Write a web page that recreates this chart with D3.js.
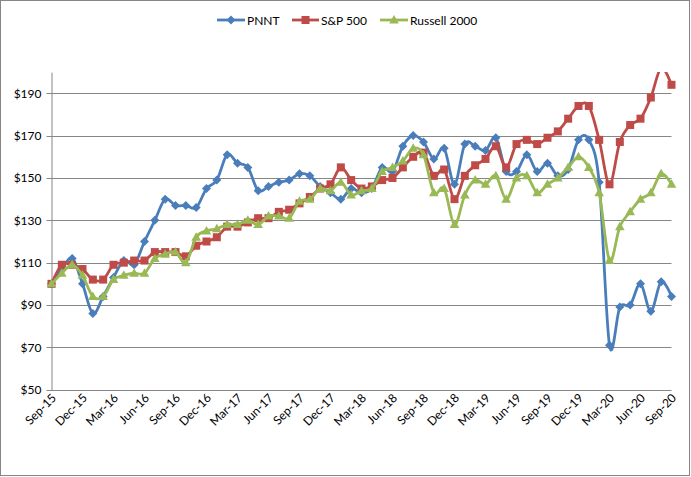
<!DOCTYPE html>
<html><head><meta charset="utf-8">
<script src="https://cdn.jsdelivr.net/npm/d3@7"></script>
<style>body{margin:0;background:#fff}text{font-family:Lato,"Open Sans",sans-serif}</style>
</head><body>
<svg id="c" width="691" height="477"></svg>
<script>
const months = ["Sep-15","Oct-15","Nov-15","Dec-15","Jan-16","Feb-16","Mar-16","Apr-16","May-16","Jun-16","Jul-16","Aug-16","Sep-16","Oct-16","Nov-16","Dec-16","Jan-17","Feb-17","Mar-17","Apr-17","May-17","Jun-17","Jul-17","Aug-17","Sep-17","Oct-17","Nov-17","Dec-17","Jan-18","Feb-18","Mar-18","Apr-18","May-18","Jun-18","Jul-18","Aug-18","Sep-18","Oct-18","Nov-18","Dec-18","Jan-19","Feb-19","Mar-19","Apr-19","May-19","Jun-19","Jul-19","Aug-19","Sep-19","Oct-19","Nov-19","Dec-19","Jan-20","Feb-20","Mar-20","Apr-20","May-20","Jun-20","Jul-20","Aug-20","Sep-20"];
const pnnt = [100,107,112,100,86,94,103,111,109,120,130,140,137,137,136,145,149,161,157,155,144,146,148,149,152,151,146,143,140,145,143,145,155,153,165,170,167,159,164,147,166,165,163,169,153,153,161,153,157,151,154,168,168,148,71,89,90,100,87,101,94];
const sp500 = [100,109,109,107,102,102,109,110,111,111,115,115,115,113,118,120,122,127,127,129,131,131,134,135,138,141,145,147,155,149,145,146,149,150,155,160,162,151,154,140,151,156,159,165,155,166,168,166,169,172,178,184,184,168,147,167,175,178,188,202,194];
const russell = [100,105,109,104,94,94,102,104,105,105,112,114,115,110,122,125,126,128,128,130,128,132,132,131,139,140,145,144,148,142,144,145,153,155,158,164,161,143,145,128,142,149,147,151,140,150,151,143,147,150,155,160,155,143,111,127,134,140,143,152,147];
const yTicks = [50,70,90,110,130,150,170,190];
const xTickLabels = months.filter((m,i)=>i%3===0);
const seriesNames = ["PNNT","S&P 500","Russell 2000"];

const svg = d3.select("#c");
const W=691,H=477;
svg.append("rect").attr("x",0.5).attr("y",0.5).attr("width",W-2).attr("height",H-2)
  .attr("fill","#fff").attr("stroke","#868686");

const x = d3.scaleLinear().domain([0,months.length-1]).range([51.5,671.5]);
const y = d3.scaleLinear().domain([50,200]).range([389.7,72.1]);

// gridlines
svg.append("g").selectAll("line").data(yTicks).join("line")
  .attr("x1",46.5).attr("x2",671.5)
  .attr("y1",d=>Math.round(y(d))+0.5).attr("y2",d=>Math.round(y(d))+0.5)
  .attr("stroke","#868686").attr("stroke-width",1);
// y axis
const yAxis = d3.axisLeft(y).tickValues(yTicks).tickSize(0).tickPadding(10).tickFormat(d=>"$"+d);
const gy = svg.append("g").attr("transform","translate(51.5,0)").call(yAxis);
gy.select(".domain").attr("stroke","#868686");
gy.selectAll("text").attr("font-size",12).attr("fill","#000");

// x axis labels
const xAxis = d3.axisBottom(x).tickValues(d3.range(0,months.length,3)).tickSize(0).tickFormat(i=>months[i]);
const gx = svg.append("g").attr("transform","translate(0,"+y(50)+")").call(xAxis);
gx.select(".domain").remove();
gx.selectAll("text").attr("font-size",12).attr("fill","#000")
  .attr("text-anchor","end").attr("dy",0).attr("y",0)
  .attr("transform","translate(5,9) rotate(-45)");

svg.append("clipPath").attr("id","clip").append("rect")
  .attr("x",40).attr("y",y(200)).attr("width",640).attr("height",y(50)-y(200)+10);

const colors = ["#4A7EBB","#BE4B48","#98B954"];
const data = [pnnt,sp500,russell];
const line = d3.line().x((d,i)=>x(i)).y(d=>y(d)).curve(d3.curveCatmullRom.alpha(0));
const plot = svg.append("g").attr("clip-path","url(#clip)");

function marker(g,k,cx,cy){
  if(k===0){
    g.append("path").attr("d",`M${cx},${cy-4.5}L${cx+4.5},${cy}L${cx},${cy+4.5}L${cx-4.5},${cy}Z`).attr("fill",colors[0]);
  } else if(k===1){
    g.append("rect").attr("x",cx-4).attr("y",cy-4).attr("width",8).attr("height",8).attr("fill",colors[1]);
  } else {
    g.append("path").attr("d",`M${cx},${cy-5}L${cx+4.8},${cy+3.5}L${cx-4.8},${cy+3.5}Z`).attr("fill",colors[2]);
  }
}

data.forEach((s,k)=>{
  plot.append("path").datum(s).attr("d",line).attr("fill","none")
    .attr("stroke",colors[k]).attr("stroke-width",2.8).attr("stroke-linejoin","round");
  const mg = plot.append("g");
  s.forEach((v,i)=>{ if(v<=200) marker(mg,k,x(i),y(v)); });
});

// legend
const leg = [{x0:217,x1:245,tx:247},{x0:292,x1:319,tx:321},{x0:380,x1:408,tx:410}];
leg.forEach((l,k)=>{
  const g = svg.append("g");
  g.append("line").attr("x1",l.x0).attr("x2",l.x1).attr("y1",20).attr("y2",20)
    .attr("stroke",colors[k]).attr("stroke-width",2.8);
  marker(g,k,(l.x0+l.x1)/2,20);
  g.append("text").attr("x",l.tx).attr("y",24.5).attr("font-size",12).attr("fill","#000").text(seriesNames[k]);
});
</script>
</body></html>
